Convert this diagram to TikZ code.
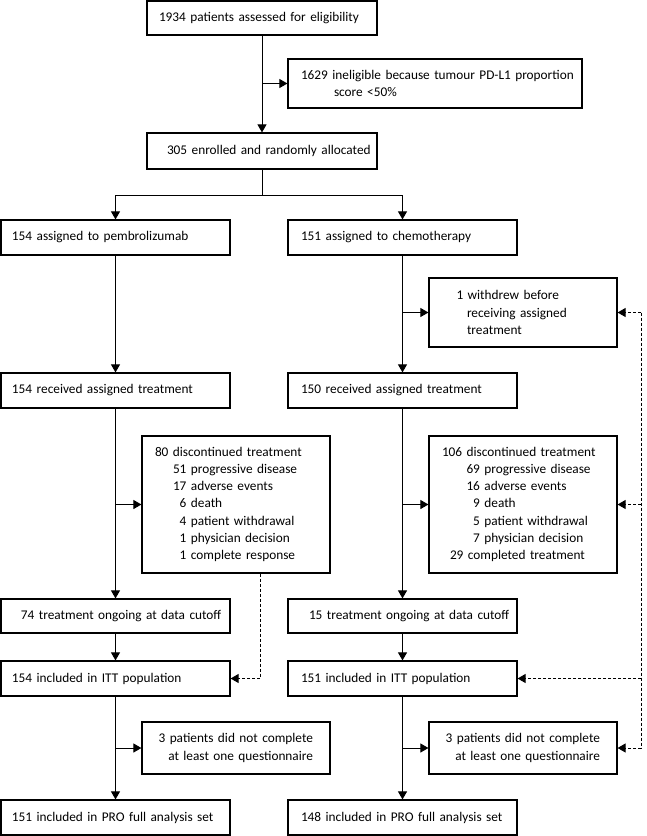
\documentclass[tikz,border=0pt]{standalone}
\usepackage{fontspec}
\setmainfont{Carlito}
\usetikzlibrary{arrows.meta,calc}
\newcommand\diagfont{\fontsize{13.3}{17.2}\selectfont\parindent=0pt}
\newcommand\Lline[2][0pt]{\hspace*{#1}\makebox[0pt][l]{#2}}
\newcommand\Rline[1]{\makebox[0pt][r]{#1}}
\begin{document}
\begin{tikzpicture}[x=1pt,y=-1pt,
  box/.style={draw, line width=1.2pt, rectangle, inner xsep=8pt, inner ysep=2pt, align=left, font=\diagfont},
  topw/.style={minimum width=230pt, text width=214pt},
  wide/.style={minimum width=229pt, text width=213pt, minimum height=35pt},
  mid/.style={minimum width=188pt, text width=172pt},
  rbox/.style={minimum width=188pt, inner xsep=17pt, text width=154pt, align=right, minimum height=52pt},
  arr/.style={line width=1pt, -{Triangle[length=8pt,width=9pt]}},
  plain/.style={line width=1pt},
  dashline/.style={line width=1pt, dash pattern=on 3pt off 2pt},
  dasharr/.style={arr, dash pattern=on 3pt off 2pt}]
\useasboundingbox (0,0) rectangle (646,836);

\node[box, topw, minimum height=34pt] (A) at (262,18) {\Lline[4pt]{1934 patients assessed for eligibility}};
\node[box, minimum width=294pt, text width=278pt, minimum height=49pt] (B) at (435,83.5) {\Lline[5pt]{1629 ineligible because tumour PD-L1 proportion}\\\Lline[38pt]{score <50\%}};
\node[box, topw, minimum height=36pt] (C) at (262,151) {\Lline[12pt]{305 enrolled and randomly allocated}};

\node[box, wide] (D) at (115.5,237.5) {\Lline[3pt]{154 assigned to pembrolizumab}};
\node[box, wide] (E) at (402.5,237.5) {\Lline[5pt]{151 assigned to chemotherapy}};
\node[box, mid, minimum height=69pt] (F) at (523,312.5) {\Lline[19.5pt]{1 withdrew before}\\\Lline[30pt]{receiving assigned}\\\Lline[30pt]{treatment}};

\node[box, wide] (G) at (115.5,390.5) {\Lline[3pt]{154 received assigned treatment}};
\node[box, wide] (H) at (402.5,390.5) {\Lline[5pt]{150 received assigned treatment}};

\node[box, mid, minimum height=137pt] (I) at (236,504.5) {\Lline[5pt]{\begin{tabular}{@{}l@{}r@{ }l@{}}
\multicolumn{3}{@{}l@{}}{80 discontinued treatment}\\
\hspace*{18pt} & 51 & progressive disease\\
 & 17 & adverse events\\
 & 6 & death\\
 & 4 & patient withdrawal\\
 & 1 & physician decision\\
 & 1 & complete response
\end{tabular}}};
\node[box, mid, minimum height=137pt] (J) at (523,504.5) {\Lline[5pt]{\begin{tabular}{@{}l@{}r@{ }l@{}}
\multicolumn{3}{@{}l@{}}{106 discontinued treatment}\\
\hspace*{24.5pt} & 69 & progressive disease\\
 & 16 & adverse events\\
 & 9 & death\\
 & 5 & patient withdrawal\\
 & 7 & physician decision\\
\multicolumn{3}{@{}l@{}}{\hspace*{8pt}29 completed treatment}
\end{tabular}}};

\node[box, wide, minimum height=34pt] (K) at (115.5,616) {\Lline[12pt]{74 treatment ongoing at data cutoff}};
\node[box, wide, minimum height=34pt] (L) at (402.5,616) {\Lline[13pt]{15 treatment ongoing at data cutoff}};

\node[box, wide] (M) at (115.5,678.5) {\Lline[3pt]{154 included in ITT population}};
\node[box, wide] (N) at (402.5,678.5) {\Lline[5pt]{151 included in ITT population}};

\node[box, rbox] (O) at (236,748) {\Rline{3 patients did not complete}\\\Rline{at least one questionnaire}};
\node[box, rbox] (P) at (523,748) {\Rline{3 patients did not complete}\\\Rline{at least one questionnaire}};

\node[box, wide] (Q) at (115.5,817.5) {\Lline[3pt]{151 included in PRO full analysis set}};
\node[box, wide] (R) at (402.5,817.5) {\Lline[5pt]{148 included in PRO full analysis set}};

% solid connectors
\draw[arr] (A.south) -- (C.north);
\draw[arr] (A.south |- B.west) -- (B.west);
\coordinate (split) at (262,195);
\draw[plain] (C.south) -- (split);
\draw[arr] (split) -| (D.north);
\draw[arr] (split) -| (E.north);
\draw[arr] (D.south) -- (G.north);
\draw[arr] (E.south) -- (H.north);
\draw[arr] (E.south |- F.west) -- (F.west);
\draw[arr] (G.south) -- (K.north);
\draw[arr] (G.south |- I.west) -- (I.west);
\draw[arr] (H.south) -- (L.north);
\draw[arr] (H.south |- J.west) -- (J.west);
\draw[arr] (K.south) -- (M.north);
\draw[arr] (L.south) -- (N.north);
\draw[arr] (M.south) -- (Q.north);
\draw[arr] (M.south |- O.west) -- (O.west);
\draw[arr] (N.south) -- (R.north);
\draw[arr] (N.south |- P.west) -- (P.west);

% dashed connectors
\coordinate (Ib) at ($(I.south west)!0.628!(I.south east)$);
\draw[dasharr] (Ib) |- (M.east);
\coordinate (rd) at (641,0);
\draw[dashline] (rd |- F.east) -- (rd |- P.east);
\draw[dasharr] (rd |- F.east) -- (F.east);
\draw[dasharr] (rd |- J.east) -- (J.east);
\draw[dasharr] (rd |- N.east) -- (N.east);
\draw[dasharr] (rd |- P.east) -- (P.east);
\end{tikzpicture}
\end{document}
